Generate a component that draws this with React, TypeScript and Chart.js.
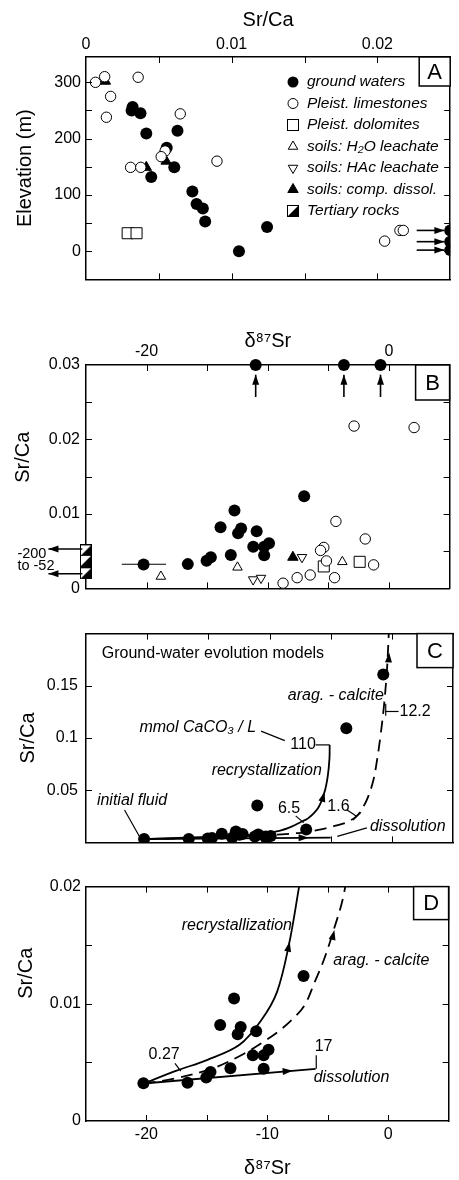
import React, { useEffect, useRef } from 'react';
import { Chart, registerables } from 'chart.js';

Chart.register(...registerables);

const FONT = "'Liberation Sans', Arial, Helvetica, sans-serif";
Chart.defaults.font.family = FONT;
Chart.defaults.color = '#000';

type P = [number, number];
type Seg = [number, number, number, number];

// ---------- Panel A: Sr/Ca (x) vs elevation, m (y)
const A_groundWaters: P[] = [
  [0.0032, 256], [0.00313, 250], [0.00374, 245], [0.00414, 209], [0.00628, 214], [0.00554, 184],
  [0.00606, 149], [0.00448, 132], [0.0073, 106], [0.00759, 84], [0.00802, 76], [0.00818, 53],
  [0.01243, 43], [0.0105, 0], [0.025, 37], [0.025, 17], [0.025, 2],
];
const A_limestones: P[] = [
  [0.00065, 300], [0.00128, 310], [0.00358, 309], [0.00169, 275], [0.0014, 238], [0.00647, 244],
  [0.00543, 178], [0.00516, 168], [0.00306, 149], [0.00376, 149], [0.00899, 160], [0.0205, 18],
  [0.02155, 37], [0.02178, 37],
];
const A_dolomites: P[] = [[0.00286, 32], [0.00347, 32]];
const A_compDissol: P[] = [[0.00133, 302], [0.00414, 149], [0.0055, 160]];
const A_offscaleArrows: Seg[] = [[0.0227, 37, 0.0246, 37], [0.0227, 17, 0.0246, 17], [0.0227, 2, 0.0246, 2]];
const A_xTickLabels = [0, 0.01, 0.02];
const A_yTickLabels = [0, 100, 200, 300];
const legendLabels = [
  'ground waters', 'Pleist. limestones', 'Pleist. dolomites', 'soils: H\u2082O leachate',
  'soils: HAc leachate', 'soils: comp. dissol.', 'Tertiary rocks',
];
const legendKinds = ['gw', 'lime', 'dolo', 'h2o', 'hac', 'comp', 'tert'];

// ---------- Ground waters: delta87Sr (x) vs Sr/Ca (y), panels B-D
const gwDelta = [-20.25, -16.6, -15.05, -14.7, -13.05, -13.9, -12.75, -12.2, -12.45, -10.92, -11.2, -9.9, -10.3, -10.3, -7.0];
const gwSrCa = [0.00322, 0.00326, 0.00372, 0.00418, 0.0045, 0.0082, 0.01046, 0.00803, 0.0074, 0.00766, 0.0056, 0.00607, 0.0056, 0.00445, 0.01238];
const gwHighDelta = [-11.0, -3.72, -0.7];
const gwHighSrCa = [0.0354, 0.1093, 0.1608];

// ---------- Panel B
const B_limestones: P[] = [
  [-2.88, 0.0218], [2.07, 0.0216], [-4.38, 0.009], [-1.96, 0.00664], [-5.38, 0.0055], [-5.65, 0.0051],
  [-5.16, 0.00369], [-1.27, 0.00316], [-4.49, 0.00144], [-6.5, 0.0018], [-7.58, 0.00144], [-8.74, 0.0007],
];
const B_dolomites: P[] = [[-5.38, 0.00295], [-2.42, 0.00357]];
const B_h2o: P[] = [[-18.82, 0.0016], [-12.5, 0.00283], [-3.85, 0.00357]];
const B_hac: P[] = [[-11.21, 0.00119], [-10.56, 0.00139], [-7.18, 0.00418]];
const B_comp: P[] = [[-7.93, 0.00418]];
const B_tertiary: P[] = [[-25, 0.0051], [-25, 0.0037], [-25, 0.00203]];
const B_errorBar: P[] = [[-22.05, 0.00324], [-18.4, 0.00324]];
const B_topValue = 0.03;
const B_upArrows: Seg[] = gwHighDelta.map((d) => [d, 0.0257, d, 0.0287] as Seg);
const B_leftArrows: Seg[] = [[-25.3, 0.00529, -28.1, 0.00529], [-25.3, 0.00197, -28.1, 0.00197]];
const B_xTickLabels = [-20, 0];
const B_yTickLabels = [0, 0.01, 0.02, 0.03];

// ---------- Models (panels C, D)
const recrystallization: P[] = [
  [-20.25, 0.0032], [-17.5, 0.0043], [-15, 0.0052], [-12.3, 0.0065], [-10.5, 0.0086], [-9.2, 0.011],
  [-8.2, 0.0151], [-7.4, 0.0198], [-6.8, 0.0235], [-6.0, 0.0335], [-5.5, 0.0484], [-5.24, 0.0633],
  [-5.1, 0.08], [-5.08, 0.0934],
];
const aragCalcite: P[] = [
  [-20.25, 0.0032], [-17.8, 0.0036], [-14.5, 0.0045], [-12, 0.0057], [-10.1, 0.0069], [-9, 0.0077],
  [-7.8, 0.0088], [-6.9, 0.0099], [-6.1, 0.0118], [-5.3, 0.0138], [-4.6, 0.016], [-3.7, 0.0192],
  [-3.0, 0.024], [-2.6, 0.029], [-2.0, 0.042], [-1.5, 0.06], [-1.2, 0.0795], [-0.95, 0.1],
  [-0.65, 0.13], [-0.4, 0.165], [-0.25, 0.2],
];
const dissolutionC: P[] = [[-20.25, 0.0032], [-5.0, 0.0046]];
const dissolutionD: P[] = [[-20.25, 0.0032], [-6.0, 0.00445]];
const C_yTickLabels = [0.05, 0.1, 0.15];
const D_xTickLabels = [-20, -10, 0];
const D_yTickLabels = [0, 0.01, 0.02];

type Txt = { x: number; y: number; t: string; it?: boolean; size?: number };
const C_texts: Txt[] = [
  { x: -23.71, y: 0.1811, t: 'Ground-water evolution models' },
  { x: -8.5, y: 0.1402, t: 'arag. - calcite', it: true },
  { x: 0.63, y: 0.1254, t: '12.2' },
  { x: -20.63, y: 0.1098, t: 'mmol CaCO\u2083 / L', it: true },
  { x: -8.3, y: 0.0934, t: '110' },
  { x: -14.73, y: 0.0689, t: 'recrystallization', it: true },
  { x: -24.11, y: 0.0402, t: 'initial fluid', it: true },
  { x: -9.31, y: 0.032, t: '6.5' },
  { x: -5.27, y: 0.0344, t: '1.6' },
  { x: -1.79, y: 0.0156, t: 'dissolution', it: true },
];
const C_leaders: P[][] = [
  [[-21.85, 0.0311], [-20.63, 0.0057]],
  [[-10.69, 0.1066], [-8.75, 0.0975]],
  [[-6.24, 0.0934], [-5.08, 0.0934]],
  [[-0.5, 0.1328], [-0.5, 0.1213]],
  [[-0.5, 0.1254], [0.55, 0.1254]],
  [[-7.86, 0.0254], [-7.21, 0.0189]],
  [[-3.65, 0.0311], [-2.92, 0.0254]],
  [[-3.17, 0.0213], [-2.52, 0.0287]],
  [[-2.04, 0.0139], [-4.46, 0.0057]],
];
const C_heads: Seg[] = [[-5.7, 0.04, -5.5, 0.0484], [-0.32, 0.165, -0.22, 0.182], [-8.0, 0.00432, -6.8, 0.00443]];
const D_texts: Txt[] = [
  { x: -17.08, y: 0.01664, t: 'recrystallization', it: true },
  { x: -4.54, y: 0.01369, t: 'arag. - calcite', it: true },
  { x: -6.16, y: 0.00369, t: 'dissolution', it: true },
  { x: -19.82, y: 0.00566, t: '0.27' },
  { x: -6.08, y: 0.00639, t: '17' },
];
const D_leaders: P[][] = [
  [[-17.64, 0.00492], [-17.16, 0.00426]],
  [[-5.95, 0.00445], [-5.95, 0.0056]],
];
const D_heads: Seg[] = [[-8.45, 0.0138, -8.15, 0.0153], [-4.75, 0.015, -4.45, 0.0163], [-9.0, 0.0042, -7.9, 0.00429]];

// ---------- helpers
const pts = (a: P[]) => a.map(([x, y]) => ({ x, y }));
const zip = (xs: number[], ys: number[]) => xs.map((x, i) => ({ x, y: ys[i] }));

function makeTert(): HTMLCanvasElement {
  const c = document.createElement('canvas');
  c.width = 12; c.height = 12;
  const g = c.getContext('2d')!;
  g.fillStyle = '#fff'; g.fillRect(0.5, 0.5, 11, 11);
  g.fillStyle = '#000';
  g.beginPath(); g.moveTo(11.5, 0.5); g.lineTo(11.5, 11.5); g.lineTo(0.5, 11.5); g.closePath(); g.fill();
  g.strokeStyle = '#000'; g.lineWidth = 1; g.strokeRect(0.5, 0.5, 11, 11);
  return c;
}

type AxOpt = {
  pos: 'left' | 'right' | 'top' | 'bottom'; min: number; max: number; step: number; size: number;
  labels?: number[]; labelPad?: number; title?: string; titlePad?: number;
};
function mkAxis(o: AxOpt): any {
  const horiz = o.pos === 'top' || o.pos === 'bottom';
  return {
    type: 'linear', position: o.pos, min: o.min, max: o.max,
    afterFit: (s: any) => { if (horiz) s.height = o.size; else s.width = o.size; },
    ticks: {
      display: !!o.labels, stepSize: o.step, includeBounds: false, autoSkip: false,
      maxRotation: 0, minRotation: 0, padding: o.labelPad ?? 10, color: '#000',
      font: { size: 16, family: FONT },
      callback: (v: number) => (o.labels && o.labels.some((l) => Math.abs(l - v) < o.step * 1e-3) ? String(v) : ''),
    },
    grid: { display: true, drawOnChartArea: false, drawTicks: true, tickLength: -6, color: 'rgba(0,0,0,0)', lineWidth: 1 },
    border: { display: true, color: '#000', width: 1.5 },
    title: o.title
      ? { display: true, text: o.title, color: '#000', font: { size: 20, family: FONT }, padding: { top: o.titlePad ?? 0, bottom: o.titlePad ?? 0 } }
      : { display: false },
  };
}

function drawSym(ctx: CanvasRenderingContext2D, kind: string, x: number, y: number, tert: HTMLCanvasElement) {
  ctx.save();
  ctx.lineWidth = 1; ctx.strokeStyle = '#000';
  const tri = (r: number, down: boolean, fill: string) => {
    const s = down ? -1 : 1;
    ctx.beginPath();
    ctx.moveTo(x, y - s * r);
    ctx.lineTo(x + r * 0.866, y + s * r / 2);
    ctx.lineTo(x - r * 0.866, y + s * r / 2);
    ctx.closePath(); ctx.fillStyle = fill; ctx.fill(); ctx.stroke();
  };
  if (kind === 'gw') { ctx.beginPath(); ctx.arc(x, y, 5.5, 0, Math.PI * 2); ctx.fillStyle = '#000'; ctx.fill(); }
  else if (kind === 'lime') { ctx.beginPath(); ctx.arc(x, y, 5, 0, Math.PI * 2); ctx.fillStyle = '#fff'; ctx.fill(); ctx.stroke(); }
  else if (kind === 'dolo') { ctx.fillStyle = '#fff'; ctx.fillRect(x - 5.5, y - 5.5, 11, 11); ctx.strokeRect(x - 5.5, y - 5.5, 11, 11); }
  else if (kind === 'h2o') tri(5.5, false, '#fff');
  else if (kind === 'hac') tri(5.5, true, '#fff');
  else if (kind === 'comp') tri(6, false, '#000');
  else if (kind === 'tert') ctx.drawImage(tert, x - 6, y - 6);
  ctx.restore();
}

type Spec = {
  texts?: Txt[]; lines?: P[][]; arrows?: { a: Seg; shaft?: boolean }[];
  letter: { t: string; w: number; h: number }; legend?: boolean; tert: HTMLCanvasElement;
};
function annotate(spec: Spec): any {
  return {
    id: 'annotate',
    afterDraw(chart: any) {
      const { ctx, chartArea: ca, scales } = chart;
      const px = (v: number) => scales.x.getPixelForValue(v);
      const py = (v: number) => scales.y.getPixelForValue(v);
      ctx.save();
      ctx.strokeStyle = '#000'; ctx.fillStyle = '#000';
      // inward tick marks on all four sides, from the scales' own ticks
      const TL = 6;
      ctx.lineWidth = 1;
      ctx.beginPath();
      scales.x.ticks.forEach((tk: any) => {
        const X = Math.round(px(tk.value)) + 0.5;
        if (X < ca.left + 2 || X > ca.right - 2) return;
        ctx.moveTo(X, ca.top); ctx.lineTo(X, ca.top + TL);
        ctx.moveTo(X, ca.bottom); ctx.lineTo(X, ca.bottom - TL);
      });
      scales.y.ticks.forEach((tk: any) => {
        const Y = Math.round(py(tk.value)) + 0.5;
        if (Y < ca.top + 2 || Y > ca.bottom - 2) return;
        ctx.moveTo(ca.left, Y); ctx.lineTo(ca.left + TL, Y);
        ctx.moveTo(ca.right, Y); ctx.lineTo(ca.right - TL, Y);
      });
      ctx.stroke();
      ctx.lineWidth = 1.2;
      (spec.lines || []).forEach((l) => {
        ctx.beginPath();
        l.forEach(([x, y], i) => (i ? ctx.lineTo(px(x), py(y)) : ctx.moveTo(px(x), py(y))));
        ctx.stroke();
      });
      (spec.arrows || []).forEach((ar) => {
        const [a, b, c, d] = ar.a;
        const x1 = px(a), y1 = py(b), x2 = px(c), y2 = py(d);
        if (ar.shaft) { ctx.lineWidth = 1.6; ctx.beginPath(); ctx.moveTo(x1, y1); ctx.lineTo(x2, y2); ctx.stroke(); }
        const ang = Math.atan2(y2 - y1, x2 - x1);
        const L = 10, W = 3.5;
        const bx = x2 - L * Math.cos(ang), by = y2 - L * Math.sin(ang);
        ctx.beginPath(); ctx.moveTo(x2, y2);
        ctx.lineTo(bx + W * Math.sin(ang), by - W * Math.cos(ang));
        ctx.lineTo(bx - W * Math.sin(ang), by + W * Math.cos(ang));
        ctx.closePath(); ctx.fill();
      });
      ctx.textBaseline = 'middle'; ctx.textAlign = 'left';
      (spec.texts || []).forEach((t) => {
        ctx.font = `${t.it ? 'italic ' : ''}${t.size ?? 16}px ${FONT}`;
        ctx.fillText(t.t, px(t.x), py(t.y));
      });
      // panel letter box
      const { t, w, h } = spec.letter;
      ctx.fillStyle = '#fff'; ctx.fillRect(ca.right - w, ca.top, w, h);
      ctx.lineWidth = 1.5; ctx.strokeRect(ca.right - w, ca.top, w, h);
      ctx.fillStyle = '#000'; ctx.font = `22px ${FONT}`; ctx.textAlign = 'center';
      ctx.fillText(t, ca.right - w / 2, ca.top + h / 2 + 1);
      if (spec.legend) {
        ctx.textAlign = 'left'; ctx.font = `italic 15.5px ${FONT}`;
        legendLabels.forEach((lab, i) => {
          const y = ca.top + 25 + i * 21.5;
          drawSym(ctx, legendKinds[i], ca.left + 207, y, spec.tert);
          ctx.fillStyle = '#000';
          ctx.fillText(lab, ca.left + 221, y);
        });
      }
      ctx.restore();
    },
  };
}

const ptGw = { pointStyle: 'circle', pointRadius: 6, backgroundColor: '#000', borderColor: '#000', borderWidth: 0 };
const ptLime = { pointStyle: 'circle', pointRadius: 5.2, backgroundColor: '#fff', borderColor: '#000', borderWidth: 1 };
const ptDolo = { pointStyle: 'rect', pointRadius: 7.8, backgroundColor: '#fff', borderColor: '#000', borderWidth: 1 };
const ptH2o = { pointStyle: 'triangle', pointRadius: 5.5, backgroundColor: '#fff', borderColor: '#000', borderWidth: 1 };
const ptHac = { pointStyle: 'triangle', rotation: 180, pointRotation: 180, pointRadius: 5.5, backgroundColor: '#fff', borderColor: '#000', borderWidth: 1 };
const ptComp = { pointStyle: 'triangle', pointRadius: 6, backgroundColor: '#000', borderColor: '#000', borderWidth: 1 };
const lineDs = (data: P[], dash?: number[], w = 1.8) => ({
  data: pts(data), showLine: true, pointRadius: 0, borderColor: '#000', borderWidth: w,
  borderDash: dash || [], tension: 0.35, fill: false,
});

function baseOptions(padding: any, scales: any) {
  return {
    responsive: false, animation: false, events: [],
    layout: { padding },
    plugins: { legend: { display: false }, tooltip: { enabled: false } },
    scales,
  };
}

export default function App() {
  const rA = useRef<HTMLCanvasElement>(null);
  const rB = useRef<HTMLCanvasElement>(null);
  const rC = useRef<HTMLCanvasElement>(null);
  const rD = useRef<HTMLCanvasElement>(null);

  useEffect(() => {
    const tert = makeTert();
    const gwAll = zip(gwDelta.concat(gwHighDelta), gwSrCa.concat(gwHighSrCa));
    const charts: Chart[] = [];

    charts.push(new Chart(rA.current!, {
      type: 'scatter',
      data: { datasets: [
        { data: pts(A_limestones), ...ptLime },
        { data: pts(A_dolomites), ...ptDolo },
        { data: pts(A_compDissol), ...ptComp },
        { data: pts(A_groundWaters), ...ptGw },
      ] as any },
      options: baseOptions({ top: 0, right: 2, bottom: 1, left: 0 }, {
        x: mkAxis({ pos: 'top', min: 0, max: 0.025, step: 0.005, size: 57, labels: A_xTickLabels, labelPad: 8.4, title: 'Sr/Ca', titlePad: 8 }),
        x2: mkAxis({ pos: 'bottom', min: 0, max: 0.025, step: 0.005, size: 0 }),
        y: mkAxis({ pos: 'left', min: -50, max: 345, step: 50, size: 86, labels: A_yTickLabels, labelPad: 11, title: 'Elevation (m)', titlePad: 13 }),
        y2: mkAxis({ pos: 'right', min: -50, max: 345, step: 50, size: 0 }),
      }) as any,
      plugins: [annotate({ arrows: A_offscaleArrows.map((a) => ({ a, shaft: true })), letter: { t: 'A', w: 31, h: 29 }, legend: true, tert })],
    }));

    charts.push(new Chart(rB.current!, {
      type: 'scatter',
      data: { datasets: [
        { data: gwHighDelta.map((x) => ({ x, y: B_topValue })), ...ptGw, clip: false },
        { data: zip(gwDelta, gwSrCa), ...ptGw },
        { ...lineDs(B_errorBar, [], 1.2), tension: 0 },
        { data: pts(B_limestones), ...ptLime },
        { data: pts(B_dolomites), ...ptDolo },
        { data: pts(B_h2o), ...ptH2o },
        { data: pts(B_hac), ...ptHac },
        { data: pts(B_comp), ...ptComp },
        { data: pts(B_tertiary), pointStyle: tert, pointRadius: 6, clip: false },
      ] as any },
      options: baseOptions({ top: 0, right: 2, bottom: 1, left: 0 }, {
        x: mkAxis({ pos: 'top', min: -25, max: 5, step: 5, size: 65, labels: B_xTickLabels, labelPad: 9.4, title: '\u03b4\u2078\u2077Sr', titlePad: 29 }),
        x2: mkAxis({ pos: 'bottom', min: -25, max: 5, step: 5, size: 0 }),
        y: mkAxis({ pos: 'left', min: 0, max: 0.03, step: 0.005, size: 86, labels: B_yTickLabels, labelPad: 12, title: '       Sr/Ca', titlePad: 11.5 }),
        y2: mkAxis({ pos: 'right', min: 0, max: 0.03, step: 0.005, size: 0 }),
      }) as any,
      plugins: [annotate({
        arrows: B_upArrows.concat(B_leftArrows).map((a) => ({ a, shaft: true })),
        texts: [
          { x: -30.66, y: 0.00467, t: '-200', size: 14.5 },
          { x: -30.66, y: 0.00295, t: 'to -52', size: 14.5 },
        ],
        letter: { t: 'B', w: 34, h: 35 }, tert,
      })],
    }));

    charts.push(new Chart(rC.current!, {
      type: 'scatter',
      data: { datasets: [
        { data: gwAll, ...ptGw },
        lineDs(recrystallization),
        lineDs(aragCalcite, [12, 7]),
        { ...lineDs(dissolutionC), tension: 0 },
      ] as any },
      options: baseOptions({ top: 10, right: 2, bottom: 2, left: 0 }, {
        x: mkAxis({ pos: 'bottom', min: -25, max: 5, step: 5, size: 0 }),
        x2: mkAxis({ pos: 'top', min: -25, max: 5, step: 5, size: 0 }),
        y: mkAxis({ pos: 'left', min: 0, max: 0.2, step: 0.05, size: 86, labels: C_yTickLabels, labelPad: 14, title: 'Sr/Ca', titlePad: 16 }),
        y2: mkAxis({ pos: 'right', min: 0, max: 0.2, step: 0.05, size: 0 }),
      }) as any,
      plugins: [annotate({
        texts: C_texts, lines: C_leaders, arrows: C_heads.map((a) => ({ a })),
        letter: { t: 'C', w: 36, h: 34 }, tert,
      })],
    }));

    charts.push(new Chart(rD.current!, {
      type: 'scatter',
      data: { datasets: [
        { data: zip(gwDelta, gwSrCa), ...ptGw },
        lineDs(recrystallization),
        lineDs(aragCalcite, [12, 7]),
        { ...lineDs(dissolutionD), tension: 0 },
      ] as any },
      options: baseOptions({ top: 11, right: 2, bottom: 0, left: 0 }, {
        x: mkAxis({ pos: 'bottom', min: -25, max: 5, step: 5, size: 59, labels: D_xTickLabels, labelPad: 10.4, title: '\u03b4\u2078\u2077Sr', titlePad: 0 }),
        x2: mkAxis({ pos: 'top', min: -25, max: 5, step: 5, size: 0 }),
        y: mkAxis({ pos: 'left', min: 0, max: 0.02, step: 0.005, size: 86, labels: D_yTickLabels, labelPad: 11, title: '           Sr/Ca', titlePad: 14 }),
        y2: mkAxis({ pos: 'right', min: 0, max: 0.02, step: 0.005, size: 0 }),
      }) as any,
      plugins: [annotate({
        texts: D_texts, lines: D_leaders, arrows: D_heads.map((a) => ({ a })),
        letter: { t: 'D', w: 35, h: 33 }, tert,
      })],
    }));

    return () => charts.forEach((c) => c.destroy());
  }, []);

  const cs = (top: number): React.CSSProperties => ({ position: 'absolute', left: 0, top });
  return (
    <div style={{ position: 'absolute', left: 0, top: 0, width: 459, height: 1180, background: '#fff' }}>
      <canvas ref={rA} width={459} height={300} style={cs(0)} />
      <canvas ref={rB} width={459} height={310} style={cs(300)} />
      <canvas ref={rC} width={459} height={256} style={cs(610)} />
      <canvas ref={rD} width={459} height={314} style={cs(866)} />
    </div>
  );
}
